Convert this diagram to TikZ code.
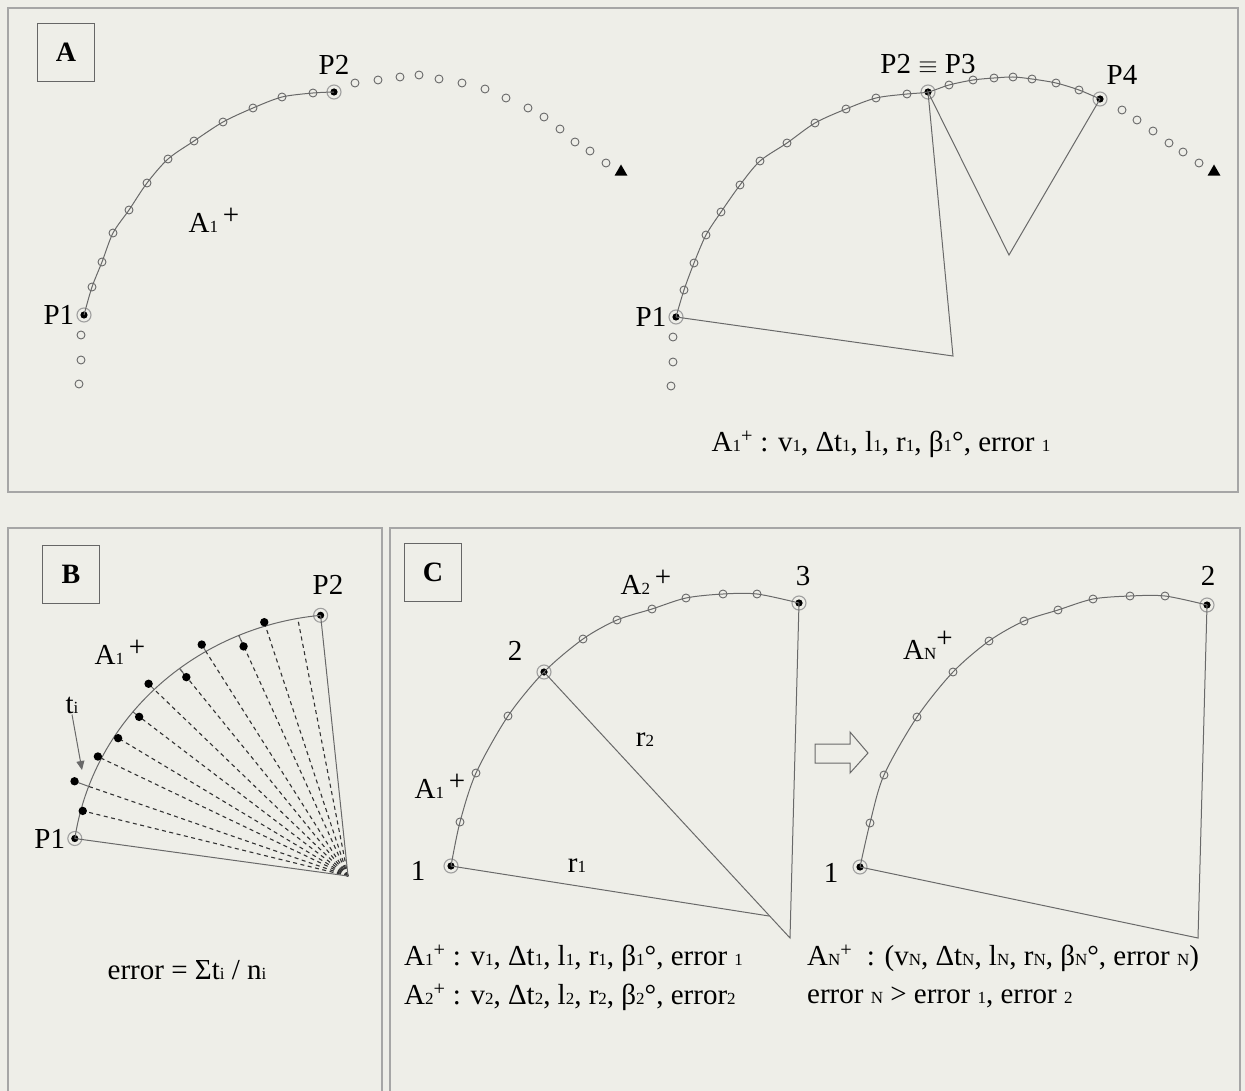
\documentclass[tikz,border=0pt]{standalone}
\usepackage{fontspec}
\setmainfont{Liberation Serif}
\usetikzlibrary{positioning, arrows.meta, shapes.geometric}
\definecolor{paper}{RGB}{238,238,232}
\definecolor{ink}{RGB}{105,105,105}
\newcommand{\lo}[1]{{\fontsize{17}{17}\selectfont #1}}
\tikzset{
  frame/.style={draw=gray!70, line width=1.3pt},
  tag/.style={draw=gray!80!black, line width=0.9pt, minimum width=57pt, minimum height=58pt, font=\fontsize{28}{28}\selectfont\bfseries},
  lab/.style={font=\fontsize{29}{32}\selectfont, inner sep=1pt},
  track/.style={draw=ink, line width=1pt},
  hole/.style={draw=ink, line width=0.9pt},
  ray/.style={draw=black!80, line width=1.1pt, dash pattern=on 4pt off 3.5pt},
  key/.style={circle, draw=gray!75, line width=1.1pt, minimum size=14pt, inner sep=0pt,
    path picture={\fill[black] (path picture bounding box.center) circle (3.6pt);}},
  stop/.style={regular polygon, regular polygon sides=3, fill=black, inner sep=0pt, minimum size=15pt},
}

\begin{document}
\begin{tikzpicture}[x=1pt, y=-1pt]
  \fill[paper] (0,0) rectangle (1245,1091);
  \useasboundingbox (0,0) rectangle (1245,1091);
  % panel frames
  \draw[frame] (8,8) rectangle (1238,492);
  \draw[frame] (8,1100) -- (8,528) -- (382,528) -- (382,1100);
  \draw[frame] (390,1100) -- (390,528) -- (1240,528) -- (1240,1100);
  \node[tag] (tagA) at (66,52) {A};
  \node[tag] (tagB) at (71,574) {B};
  \node[tag] (tagC) at (433,572) {C};

  % A, left
  \node[key] (P1a) at (84,315) {};
  \node[key] (P2a) at (334,92) {};
  \draw[track] plot[smooth] coordinates {(P1a.center) (92,287) (102,262) (113,233) (129,210) (147,183) (168,159) (194,141) (223,122) (253,108) (282,97) (313,93) (P2a.center)};
  \foreach \x/\y in {92/287, 102/262, 113/233, 129/210, 147/183, 168/159, 194/141, 223/122, 253/108, 282/97, 313/93,
      355/83, 378/80, 400/77, 419/75, 439/79, 462/83, 485/89, 506/98, 528/108, 544/117, 560/129, 575/142, 590/151, 606/163,
      81/335, 81/360, 79/384}
    \draw[hole] (\x,\y) circle (4pt);
  \node[stop] (endA) at (621,172) {};
  \node[lab, left=1pt of P1a] (P1alab) {P1};
  \node[lab, above=9pt of P2a] (P2alab) {P2};
  \node[lab] (A1a) at (214,220) {A\lo{1}\,\raisebox{8pt}{+}};

  % A, right
  \node[key] (P1b) at (676,317) {};
  \node[key] (P3b) at (928,92) {};
  \node[key] (P4b) at (1100,99) {};
  \coordinate (c1b) at (953,356);
  \coordinate (c2b) at (1009,255);
  \draw[track] plot[smooth] coordinates {(P1b.center) (684,290) (694,263) (706,235) (721,212) (740,185) (760,161) (787,143) (815,123) (846,109) (876,98) (907,94) (P3b.center) (949,85) (973,80) (994,78) (1013,77) (1032,79) (1056,83) (1079,90) (P4b.center)};
  \foreach \x/\y in {684/290, 694/263, 706/235, 721/212, 740/185, 760/161, 787/143, 815/123, 846/109, 876/98, 907/94,
      949/85, 973/80, 994/78, 1013/77, 1032/79, 1056/83, 1079/90,
      1122/110, 1137/120, 1153/131, 1169/143, 1183/152, 1199/163,
      673/337, 673/362, 671/386}
    \draw[hole] (\x,\y) circle (4pt);
  \node[stop] (endB) at (1214,172) {};
  \draw[track] (P1b.center) -- (c1b) -- (P3b.center) -- (c2b) -- (P4b.center);
  \node[lab, left=1pt of P1b] (P1blab) {P1};
  \node[lab, above=9pt of P3b] (P3blab) {P2 $\equiv$ P3};
  \node[lab] (P4blab) at (1122,75) {P4};
  \node[lab] (infoA) at (881,444) {A\lo{1}\textsuperscript{+} : v\lo{1}, Δt\lo{1}, l\lo{1}, r\lo{1}, β\lo{1}°, error \lo{1}};

  % B
  \coordinate (Bc) at (348,876);
  \node[key] (P1B) at (74.8,838.5) {};
  \node[key] (P2B) at (320.6,615.3) {};
  \draw[track] plot[domain=171.8:95.7, samples=60] ({348+276*cos(\x)}, {876-262*sin(\x)});
  \foreach \a/\d in {165.5/-2, 160/15, 153.3/4, 147.7/-4, 141.2/-8, 134.6/8, 127.6/-11, 121/8, 113.3/-12, 107.4/4} {
    \draw[ray] (Bc) -- ({348+276*cos(\a)}, {876-262*sin(\a)});
    \draw[track] ({348+276*cos(\a)}, {876-262*sin(\a)}) -- ({348+(276+\d)*cos(\a)}, {876-(262+\d)*sin(\a)});
    \fill[black] ({348+(276+\d)*cos(\a)}, {876-(262+\d)*sin(\a)}) circle (4.2pt);
  }
  \draw[ray] (Bc) -- ({348+276*cos(100.5)}, {876-262*sin(100.5)});
  \draw[track] (P1B.center) -- (Bc) -- (P2B.center);
  \node[lab, left=1pt of P1B] (P1Blab) {P1};
  \node[lab] (P2Blab) at (328,585) {P2};
  \node[lab] (A1B) at (120,652) {A\lo{1}\,\raisebox{8pt}{+}};
  \node[lab] (ti) at (72,705) {t\lo{i}};
  \coordinate (tiend) at (82,770);
  \draw[ink, line width=1pt, -{Triangle[length=9pt, width=8pt]}] (ti.south) -- (tiend);
  \node[lab] (err) at (187,970) {error = Σt\lo{i} / n\lo{i}};

  % C, left
  \node[key] (C1) at (451,866) {};
  \node[key] (C2) at (544,672) {};
  \node[key] (C3) at (799,603) {};
  \coordinate (Cc1) at (769,916);
  \coordinate (Cc2) at (790,938);
  \draw[track] plot[smooth] coordinates {(C1.center) (460,822) (476,773) (508,716) (C2.center) (583,639) (617,620) (652,609) (686,598) (723,594) (757,594) (C3.center)};
  \foreach \x/\y in {460/822, 476/773, 508/716, 583/639, 617/620, 652/609, 686/598, 723/594, 757/594}
    \draw[hole] (\x,\y) circle (4pt);
  \draw[track] (C1.center) -- (Cc1);
  \draw[track] (C2.center) -- (Cc2) -- (C3.center);
  \node[lab] (C1lab) at (418,871) {1};
  \node[lab] (C2lab) at (515,651) {2};
  \node[lab] (C3lab) at (803,576) {3};
  \node[lab] (A1C) at (440,786) {A\lo{1}\,\raisebox{8pt}{+}};
  \node[lab] (A2C) at (646,582) {A\lo{2}\,\raisebox{8pt}{+}};
  \node[lab] (r2) at (645,740) {r\lo{2}};
  \node[lab] (r1) at (577,866) {r\lo{1}};

  % C, right
  \node[key] (D1) at (860,867) {};
  \node[key] (D2) at (1207,605) {};
  \coordinate (Dc) at (1198,938);
  \draw[track] plot[smooth] coordinates {(D1.center) (870,823) (884,775) (917,717) (953,672) (989,641) (1024,621) (1058,610) (1093,599) (1130,596) (1165,596) (D2.center)};
  \foreach \x/\y in {870/823, 884/775, 917/717, 953/672, 989/641, 1024/621, 1058/610, 1093/599, 1130/596, 1165/596}
    \draw[hole] (\x,\y) circle (4pt);
  \draw[track] (D1.center) -- (Dc) -- (D2.center);
  \node[lab] (D1lab) at (831,873) {1};
  \node[lab] (D2lab) at (1208,576) {2};
  \node[lab] (ANC) at (928,645) {A\lo{N}\raisebox{12pt}{+}};
  \draw[ink, line width=1pt, fill=paper] (815,744) -- (850,744) -- (850,732) -- (868,753) -- (850,773) -- (850,763) -- (815,763) -- cycle;

  % C, captions
  \node[lab, anchor=west] (capC1) at (403,958) {A\lo{1}\textsuperscript{+} : v\lo{1}, Δt\lo{1}, l\lo{1}, r\lo{1}, β\lo{1}°, error \lo{1}};
  \node[lab, anchor=west] (capC2) at (403,997) {A\lo{2}\textsuperscript{+} : v\lo{2}, Δt\lo{2}, l\lo{2}, r\lo{2}, β\lo{2}°, error\lo{2}};
  \node[lab, anchor=west] (capD1) at (806,958) {A\lo{N}\textsuperscript{+} \ : (v\lo{N}, Δt\lo{N}, l\lo{N}, r\lo{N}, β\lo{N}°, error \lo{N})};
  \node[lab, anchor=west] (capD2) at (806,997) {error \lo{N} > error \lo{1}, error \lo{2}};
\end{tikzpicture}
\end{document}
